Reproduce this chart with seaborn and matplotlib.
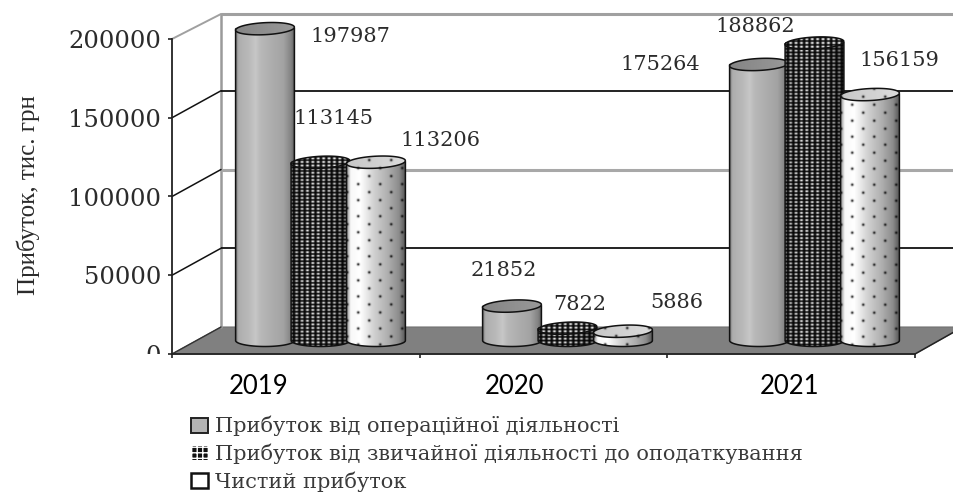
"""
Profit by year chart, 3D cylinder look drawn on top of a seaborn barplot
"""

import numpy as np
import pandas as pd
import matplotlib
matplotlib.use("Agg")
import matplotlib.pyplot as plt
from matplotlib.patches import Patch, PathPatch, Polygon
from matplotlib.path import Path
from matplotlib.transforms import Bbox
import seaborn as sns

years = ["2019", "2020", "2021"]
series_names = [
    "Прибуток від операційної діяльності",
    "Прибуток від звичайної діяльності до оподаткування",
    "Чистий прибуток",
]
operating_profit = [197987, 21852, 175264]
ordinary_profit = [113145, 7822, 188862]
net_profit = [113206, 5886, 156159]
y_ticks = [0, 50000, 100000, 150000, 200000]
y_label = "Прибуток, тис. грн"

W, H = 954, 496
SERIF = "DejaVu Serif"
TEXT = "#2b2b2b"

sns.set_theme(style="white")
plt.rcParams["font.family"] = [SERIF, "DejaVu Sans"]

df = pd.DataFrame({
    "year": years * 3,
    "series": np.repeat(series_names, 3),
    "value": operating_profit + ordinary_profit + net_profit,
})

fig = plt.figure(figsize=(W / 100, H / 100), dpi=100, facecolor="white")

# background in pixel units: walls, floor, value labels
ax_bg = fig.add_axes([0, 0, 1, 1], zorder=0)
ax_bg.set_xlim(0, W)
ax_bg.set_ylim(H, 0)
ax_bg.axis("off")

# front axis with the real y ticks
FRONT_L, FRONT_R, FRONT_Y0, FRONT_Y1 = 172, 915, 354, 39
ax_front = fig.add_axes(
    [FRONT_L / W, 1 - FRONT_Y0 / H, (FRONT_R - FRONT_L) / W, (FRONT_Y0 - FRONT_Y1) / H],
    zorder=1, facecolor="none",
)
ax_front.set_xlim(0, 3)
ax_front.set_ylim(0, 200000)
ax_front.set_xticks([0, 1, 2, 3])
ax_front.set_xticklabels([])
ax_front.set_yticks(y_ticks)
ax_front.set_yticklabels([str(v) for v in y_ticks], fontsize=17.5, color=TEXT)
ax_front.tick_params(axis="both", direction="out", length=3, width=1.2, color="#222222",
                     left=True, bottom=True, pad=5)
for side in ["top", "right"]:
    ax_front.spines[side].set_visible(False)
for side in ["left", "bottom"]:
    ax_front.spines[side].set_color("#222222")
    ax_front.spines[side].set_linewidth(1.3)
ax_front.patch.set_alpha(0)

# the zero label is cut off in the original
zero_label = ax_front.get_yticklabels()[0]
zero_label.set_clip_box(Bbox([[0, H - FRONT_Y0], [W, H]]))
zero_label.set_clip_on(True)

# walls and floor
DX, DY = 49, -27
floor = Polygon([(FRONT_L, FRONT_Y0), (FRONT_L + DX, FRONT_Y0 + DY), (W, FRONT_Y0 + DY),
                 (W, FRONT_Y0 + DY + 5), (FRONT_R, FRONT_Y0)],
                closed=True, fc="#808080", ec="#707070", lw=0.8)
ax_bg.add_patch(floor)
ax_bg.plot([FRONT_L + DX] * 2, [FRONT_Y1 - 25, FRONT_Y0 + DY], color="#9a9a9a", lw=1.8)
grid_styles = {200000: ("#a0a0a0", 2.2), 150000: ("#111111", 1.3), 100000: ("#a8a8a8", 2.2),
               50000: ("#111111", 1.3)}
for v, (col, lw) in grid_styles.items():
    py = FRONT_Y0 - v * (FRONT_Y0 - FRONT_Y1) / 200000
    back = py + (-25 if v == 200000 else DY)
    ax_bg.plot([FRONT_L + DX, W], [back] * 2, color=col, lw=lw, solid_capstyle="butt")
    ax_bg.plot([FRONT_L, FRONT_L + DX], [py, back],
               color="#a0a0a0" if v == 200000 else "#111111", lw=1.4 if v == 200000 else 1.1)
ax_bg.plot([FRONT_L, FRONT_L + DX], [FRONT_Y0, FRONT_Y0 + DY], color="#333333", lw=1)
ax_bg.plot([FRONT_R, W], [FRONT_Y0, FRONT_Y0 + DY + 5], color="#222222", lw=1.1)

# bars live on a full figure axes: category pitch 247 px, 315 px for 200000
PITCH, GROUP0, BASE_PX, PX_200K = 247.0, 320.5, 340.5, 315.0
ux = 1 / PITCH
uy = 200000 / PX_200K
ax = fig.add_axes([0, 0, 1, 1], zorder=2, facecolor="none")
sns.barplot(data=df, x="year", y="value", hue="series", order=years, hue_order=series_names,
            width=0.674, gap=0, dodge=True, legend=False, ax=ax, color="gray")
xlim = (-GROUP0 * ux, (W - GROUP0) * ux)
ylim = ((BASE_PX - H) * uy, BASE_PX * uy)
ax.set_xlim(xlim)
ax.set_ylim(ylim)
ax.set_autoscale_on(False)
ax.axis("off")


def body_shade(kind, t):
    """Horizontal light profile of a cylinder, t runs 0..1"""
    if kind == 0:
        return np.interp(t, [0, .04, .2, .33, .42, .6, .8, .93, 1],
                         [.5, .68, .72, .78, .72, .68, .64, .52, .35])
    if kind == 1:
        return np.interp(t, [0, .3, .7, 1], [.75, 1.0, .85, .45])
    return np.interp(t, [0, .06, .22, .45, .7, .88, 1], [.6, .97, 1.0, .82, .68, .55, .32])


def pattern(kind, x, y, shade):
    """Grey level image from pixel grids x, y"""
    if kind == 0:
        return shade
    if kind == 1:
        dots = (np.cos(2 * np.pi * x / 5.4) + 1) / 2 * (np.cos(2 * np.pi * y / 3.6) + 1) / 2
        return np.clip(0.02 + 1.05 * dots * shade, 0, 1)
    col = np.round(x / 11.0)
    row = np.round((y - 8 * (col % 2)) / 16.0)
    d2 = (x - col * 11.0) ** 2 + (y - 8 * (col % 2) - row * 16.0) ** 2
    return np.clip(shade * (1 - 0.95 * np.exp(-d2 / 1.6)), 0, 1)


def ring(cx_px, cy_px, half_w, semi_h, tilt=0.0):
    t = np.linspace(0, 2 * np.pi, 90)
    x = half_w * np.cos(t)
    y = semi_h * np.sin(t) - tilt * x
    return cx_px + x, cy_px + y


def to_data(px, py):
    return px * ux + xlim[0], ylim[1] - py * uy


def textured(poly_px, kind, x0, x1, y0, y1, z, flat=None):
    """Image of the cylinder texture clipped to a polygon given in pixels"""
    xs, ys = np.arange(x0, x1, 0.5), np.arange(y0, y1, 0.5)
    gx, gy = np.meshgrid(xs, ys)
    shade = body_shade(kind, (gx - x0) / (x1 - x0))
    if flat is not None:
        shade = flat + (gx - x0) / (x1 - x0) * 0.08
    dx0, dy0 = to_data(x0, y0)
    dx1, dy1 = to_data(x1, y1)
    im = ax.imshow(pattern(kind, gx - x0, gy, shade), cmap="gray", vmin=0, vmax=1,
                   extent=(dx0, dx1, dy1, dy0), aspect="auto",
                   interpolation="bilinear", zorder=z, origin="upper")
    pts = np.column_stack(to_data(*poly_px))
    ax.add_patch(PathPatch(Path(pts), fc="none", ec="#111111", lw=1.1, zorder=z + 0.1))
    im.set_clip_path(Polygon(pts, closed=True, transform=ax.transData))


SEMI_H = 6.0
for i, kind in enumerate([0] * 3 + [1] * 3 + [2] * 3):
    bar = ax.patches[i]
    bar.set_visible(False)
    # bars overlap slightly in the original
    cx_px = (bar.get_x() + bar.get_width() / 2 - xlim[0]) / ux
    half_w = bar.get_width() / ux * 0.53
    top_px = BASE_PX - bar.get_height() / uy
    z = 3 + kind * 2

    # walk from the left top down, along the base, up the right side
    bx, by = ring(cx_px, BASE_PX, half_w, SEMI_H)
    low = by >= BASE_PX - 1e-6
    order = np.argsort(bx[low])
    body_x = np.r_[cx_px - half_w, bx[low][order], cx_px + half_w, cx_px - half_w]
    body_y = np.r_[top_px, by[low][order], top_px, top_px]
    textured((body_x, body_y), kind, cx_px - half_w, cx_px + half_w, top_px - 1,
             BASE_PX + SEMI_H + 1, z)

    tx, ty = ring(cx_px, top_px, half_w, SEMI_H, tilt=0.05)
    textured((tx, ty), kind, cx_px - half_w, cx_px + half_w, top_px - SEMI_H - 3,
             top_px + SEMI_H + 3, z + 0.5, flat={0: .52, 1: 1.0, 2: .78}[kind])

# value labels, pixel centres picked per bar
label_pos = [(350, 37), (504, 271), (660, 65),
             (333, 118), (580, 305), (755, 27),
             (440, 141), (677, 303), (899, 61)]
for (px, py), v in zip(label_pos, df["value"]):
    ax_bg.text(px, py, str(v), ha="center", va="center", fontsize=15, color=TEXT)

# pasted year labels sit off the category centres
for px, year in zip([259, 514.5, 790], years):
    ax_bg.text(px, 386, year, ha="center", va="center", fontsize=18.5, color="#000000",
               family=["Lato", "DejaVu Sans"])

ax_bg.text(28, 195, y_label, rotation=90, ha="center", va="center", fontsize=18, color=TEXT,
           family=["Liberation Serif", "DejaVu Serif"])

handles = [
    Patch(fc="#b4b4b4", ec="#222222", lw=1.4),
    Patch(fc="#111111", ec="white", hatch="+++", lw=0),
    Patch(fc="white", ec="#111111", lw=1.8),
]
fig.legend(handles, series_names, loc="upper left", bbox_to_anchor=(191 / W, 1 - 416 / H),
           frameon=False, fontsize=15, labelcolor="#3a3a3a", handlelength=0.82, handleheight=0.7,
           handletextpad=0.34, labelspacing=0.34, borderpad=0, borderaxespad=0)

fig.savefig("out.png", dpi=100)
